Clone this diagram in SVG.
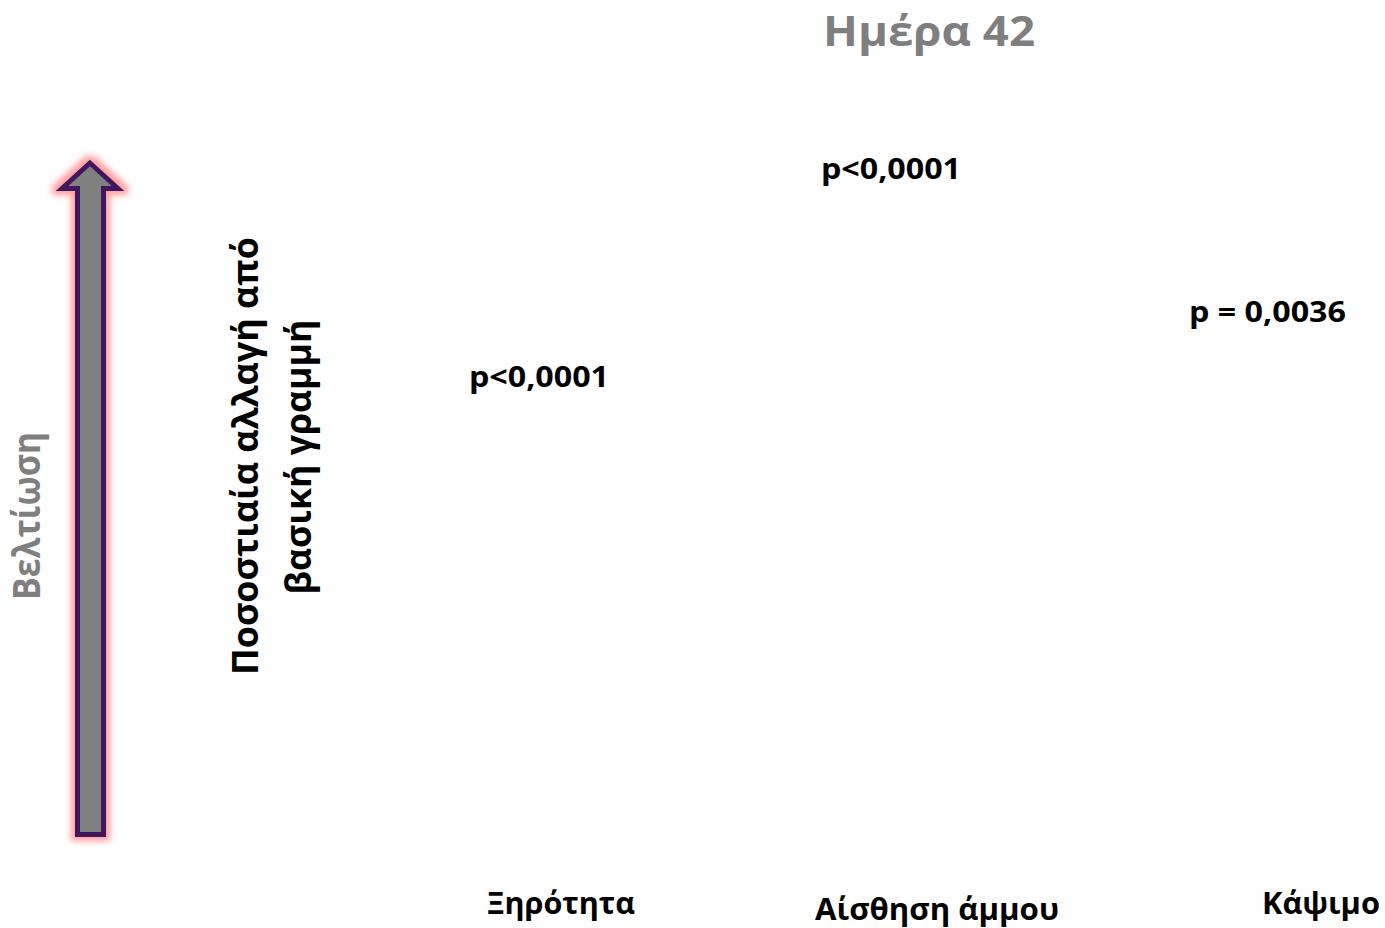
<svg xmlns="http://www.w3.org/2000/svg" width="1385" height="928" viewBox="0 0 1385 928">
  <style>
    text { font-family: "Open Sans", "Noto Sans", "DejaVu Sans", sans-serif; font-weight: 700; }
    .gray { fill: #7f7f7f; }
    .black { fill: #000000; }
    .pval { font-size: 29px; }
    .cat { font-size: 30px; }
  </style>
  <defs>
    <filter id="glow" x="-50%" y="-20%" width="200%" height="140%">
      <feMorphology in="SourceAlpha" operator="dilate" radius="4" result="d"/>
      <feGaussianBlur in="d" stdDeviation="3" result="b"/>
      <feFlood flood-color="#ff8c8c" flood-opacity="0.85"/>
      <feComposite in2="b" operator="in" result="g"/>
      <feMerge>
        <feMergeNode in="g"/>
        <feMergeNode in="SourceGraphic"/>
      </feMerge>
    </filter>
  </defs>

  <g id="improvement-arrow">
    <path d="M90,163 L118,188.5 L103.5,188.5 L103.5,834.5 L77.5,834.5 L77.5,188.5 L62,188.5 Z" fill="#808080" stroke="#41195e" stroke-width="5" stroke-linejoin="miter" filter="url(#glow)"/>
  </g>

  <g id="improvement-label">
    <text class="gray" font-size="38" transform="translate(40,600) rotate(-90)" textLength="168" lengthAdjust="spacingAndGlyphs">Βελτίωση</text>
  </g>

  <g id="y-axis-title">
    <text class="black" font-size="35" text-anchor="middle" transform="translate(258,456) rotate(-90)" textLength="438" lengthAdjust="spacingAndGlyphs">Ποσοστιαία αλλαγή από</text>
    <text class="black" font-size="35" text-anchor="middle" transform="translate(311,457) rotate(-90)" textLength="275" lengthAdjust="spacingAndGlyphs">βασική γραμμή</text>
  </g>

  <g id="title">
    <text class="gray" font-size="42" x="823" y="46" textLength="212" lengthAdjust="spacingAndGlyphs">Ημέρα 42</text>
  </g>

  <g id="pvalue-dryness">
    <text class="black pval" x="469" y="387" textLength="140" lengthAdjust="spacingAndGlyphs">p&lt;0,0001</text>
  </g>
  <g id="pvalue-sand">
    <text class="black pval" x="821" y="179" textLength="140" lengthAdjust="spacingAndGlyphs">p&lt;0,0001</text>
  </g>
  <g id="pvalue-burning">
    <text class="black pval" x="1189" y="322" textLength="157" lengthAdjust="spacingAndGlyphs">p = 0,0036</text>
  </g>

  <g id="category-dryness">
    <text class="black cat" x="487" y="914" textLength="148" lengthAdjust="spacingAndGlyphs">Ξηρότητα</text>
  </g>
  <g id="category-sand">
    <text class="black cat" x="815" y="920" textLength="244" lengthAdjust="spacingAndGlyphs">Αίσθηση άμμου</text>
  </g>
  <g id="category-burning">
    <text class="black cat" x="1262" y="914" textLength="118" lengthAdjust="spacingAndGlyphs">Κάψιμο</text>
  </g>

  <g id="connectors"></g>
</svg>
